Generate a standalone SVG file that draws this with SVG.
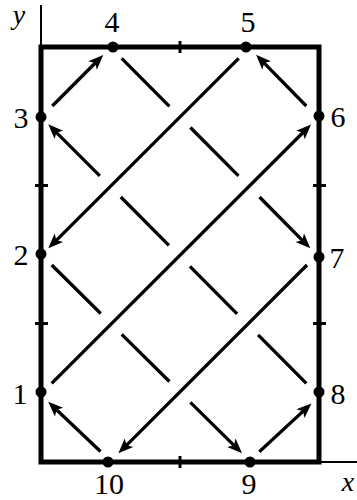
<svg xmlns="http://www.w3.org/2000/svg" width="357" height="500" viewBox="0 0 357 500">
<style>
.axis{stroke:#000;stroke-width:2;fill:none}
.frame{stroke:#000;stroke-width:5;fill:none;stroke-linejoin:miter}
.tick{stroke:#000;stroke-width:3}
.ln{stroke:#000;stroke-width:3.3;fill:none}
.arr{marker-end:url(#ah)}
text{font-family:'Liberation Serif','DejaVu Serif',serif;fill:#000;text-anchor:middle}
.it{font-style:italic}
</style>
<defs>
<marker id="ah" markerUnits="userSpaceOnUse" orient="auto" markerWidth="22" markerHeight="22" viewBox="-11 -11 22 22" refX="0" refY="0">
<path d="M5,0 L-10,-6 L-6.5,0 L-10,6 Z" fill="#000"/>
</marker>
</defs>
<g id="axes">
<line class="axis" x1="41" y1="462" x2="41" y2="5"/>
<line class="axis" x1="41" y1="462" x2="357" y2="462"/>
<text class="it" x="19" y="24" font-size="28">y</text>
<text class="it" x="348" y="491" font-size="28">x</text>
</g>
<g id="frame">
<rect class="frame" x="41" y="47" width="278" height="415"/>
<line class="tick" x1="180" y1="41" x2="180" y2="53"/>
<line class="tick" x1="180" y1="456" x2="180" y2="468"/>
<line class="tick" x1="35" y1="185.5" x2="48" y2="185.5"/>
<line class="tick" x1="35" y1="323.5" x2="48" y2="323.5"/>
<line class="tick" x1="313" y1="185.5" x2="326" y2="185.5"/>
<line class="tick" x1="313" y1="323.5" x2="326" y2="323.5"/>
</g>
<g id="connectors">
<path class="ln arr" d="M100.5,451.5 L51.8,405.3"/>
<path class="ln arr" d="M52.3,106 L99.7,58.5"/>
<path class="ln arr" d="M306.3,106 L259.6,58.4"/>
<path class="ln arr" d="M259.3,451.7 L307.8,406.9"/>
<path class="ln arr" d="M238.7,58.3 L51.8,244.8"/>
<path class="ln arr" d="M51.7,383.3 L307.5,128"/>
<path class="ln arr" d="M307,265 L121.9,449.8"/>
<path class="ln" d="M121.7,58.3 L169.4,106.3 M190.4,127.5 L238.5,175.9"/>
<path class="ln arr" d="M259.5,197 L306.8,244.8"/>
<path class="ln" d="M51.7,265 L100.7,313.5 M121.7,334.3 L169.4,381.5"/>
<path class="ln arr" d="M190.4,402.3 L238.5,449.8"/>
<path class="ln" d="M306.3,383.3 L258.1,334.8 M237.1,313.8 L189.9,266.4 M168.9,245.4 L120.8,197"/>
<path class="ln arr" d="M99.8,175.9 L51.8,127.8"/>
</g>
<g font-size="30">
<g id="n1"><circle cx="41" cy="392" r="5.5"/><text x="20" y="404">1</text></g>
<g id="n2"><circle cx="41" cy="254" r="5.5"/><text x="21" y="265">2</text></g>
<g id="n3"><circle cx="41" cy="117" r="5.5"/><text x="21" y="128">3</text></g>
<g id="n4"><circle cx="113" cy="47" r="5.5"/><text x="112" y="32">4</text></g>
<g id="n5"><circle cx="246" cy="47" r="5.5"/><text x="248" y="32">5</text></g>
<g id="n6"><circle cx="319" cy="116" r="5.5"/><text x="338" y="127">6</text></g>
<g id="n7"><circle cx="319" cy="257" r="5.5"/><text x="337" y="268">7</text></g>
<g id="n8"><circle cx="319" cy="392" r="5.5"/><text x="338" y="404">8</text></g>
<g id="n9"><circle cx="250" cy="462" r="5.5"/><text x="249" y="494">9</text></g>
<g id="n10"><circle cx="108" cy="462" r="5.5"/><text x="109" y="494">10</text></g>
</g>
</svg>
